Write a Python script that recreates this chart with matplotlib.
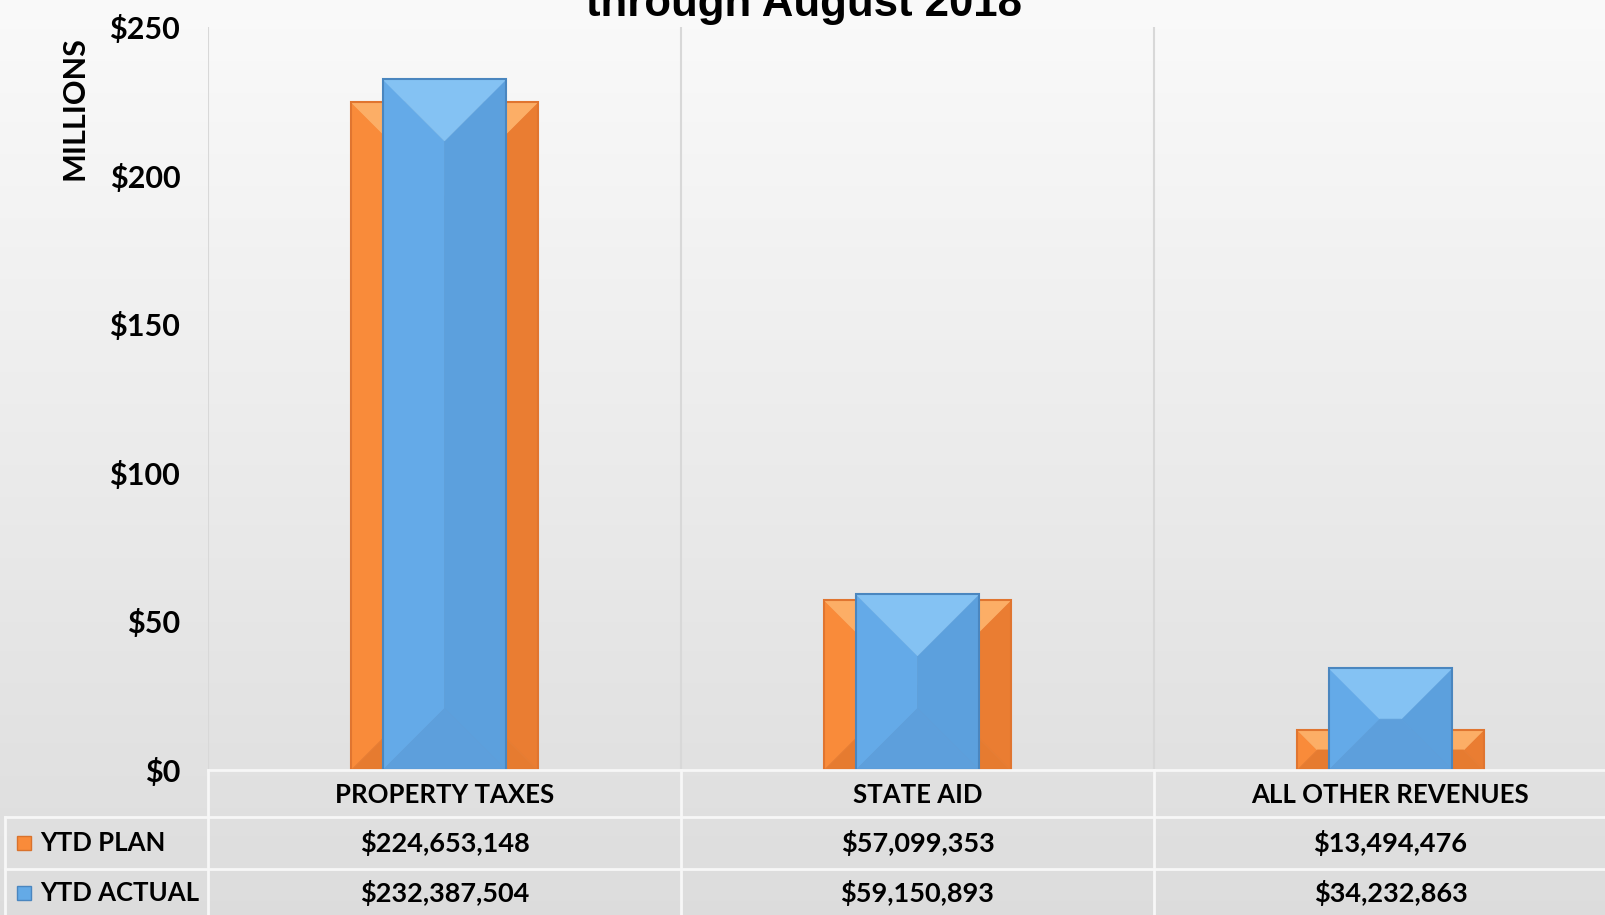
import matplotlib
matplotlib.use('Agg')
import matplotlib.pyplot as plt
import matplotlib.transforms as mtransforms
from matplotlib.patches import Polygon, Rectangle
import numpy as np

# data
categories = ['PROPERTY TAXES', 'STATE AID', 'ALL OTHER REVENUES']
plan = [224653148, 57099353, 13494476]
actual = [232387504, 59150893, 34232863]
series_names = ['YTD PLAN', 'YTD ACTUAL']
yticks = [0, 50, 100, 150, 200, 250]
title = 'through August 2018'

W, H = 1606, 915
fig = plt.figure(figsize=(W / 100, H / 100), dpi=100)

# background gradient
bg = fig.add_axes([0, 0, 1, 1], zorder=-10)
grad = np.linspace(0.98, 0.865, 256).reshape(-1, 1)
bg.imshow(np.dstack([grad, grad, grad]), aspect='auto', extent=[0, 1, 0, 1])
bg.axis('off')

ax_l, ax_b = 208 / W, (H - 770) / H
ax_w, ax_h = (1627 - 208) / W, (770 - 27) / H
ax = fig.add_axes([ax_l, ax_b, ax_w, ax_h])
ax.set_facecolor('none')
ax.set_xlim(-0.5, len(categories) - 0.5)
ax.set_ylim(0, 250)
for s in ax.spines.values():
    s.set_visible(False)
ax.set_xticks([])
ax.set_yticks(yticks)
ax.set_yticklabels(['$%d' % v for v in yticks], fontfamily='Lato',
                   fontweight='bold', fontsize=22)
ax.tick_params(axis='y', length=0, pad=20)

# px per data unit
px_x = ax_w * W / (len(categories))
px_y = ax_h * H / 250.0


def bevel_bar(xc, width, val, cols, edge, z):
    left, top, right, bottom = cols
    x0, x1 = xc - width / 2, xc + width / 2
    y0, y1 = 0, val
    wpx, hpx = width * px_x, val * px_y
    b = min(wpx, hpx) / 2
    bx, by = b / px_x, b / px_y
    faces = [
        ([(x0, y0), (x0, y1), (x0 + bx, y1 - by), (x0 + bx, y0 + by)], left),
        ([(x1, y1), (x1, y0), (x1 - bx, y0 + by), (x1 - bx, y1 - by)], right),
        ([(x0, y1), (x1, y1), (x1 - bx, y1 - by), (x0 + bx, y1 - by)], top),
        ([(x0, y0), (x1, y0), (x1 - bx, y0 + by), (x0 + bx, y0 + by)], bottom),
    ]
    for pts, c in faces:
        ax.add_patch(Polygon(pts, closed=True, facecolor=c, edgecolor=c,
                             lw=0.5, zorder=z))
    ax.add_patch(Rectangle((x0, y0), width, val, facecolor='none',
                           edgecolor=edge, lw=1.5, zorder=z + 0.2))


x = np.arange(len(categories))
orange = ('#f98b3a', '#fcae66', '#ea7d32', '#e67b30')
blue = ('#64aae8', '#84c2f3', '#5ca0dd', '#5d9fdc')
for i in range(len(categories)):
    bevel_bar(x[i], 0.394, plan[i] / 1e6, orange, '#e07530', 2)
    bevel_bar(x[i], 0.26, actual[i] / 1e6, blue, '#4a86bf', 3)

# category separators (plot area)
for xb in np.arange(-0.5, len(categories), 1.0):
    ax.axvline(xb, color='#d8d8d8', lw=1.5, zorder=1)

# table below the axes
tr = mtransforms.blended_transform_factory(ax.transData, fig.transFigure)
rows_y = [(H - 795) / H, (H - 843) / H, (H - 893) / H]
lines_y = [(H - 770) / H, (H - 817) / H, (H - 869) / H]
tfont = dict(fontfamily='Lato', fontweight='bold', ha='center', va='center')
for i, c in enumerate(categories):
    fig.text(x[i], rows_y[0], c, transform=tr, fontsize=18.5, **tfont)
    fig.text(x[i], rows_y[1], '${:,}'.format(plan[i]), transform=tr,
             fontsize=19.5, **tfont)
    fig.text(x[i], rows_y[2], '${:,}'.format(actual[i]), transform=tr,
             fontsize=19.5, **tfont)

line_c = '#f7f7f7'
fig.add_artist(plt.Line2D([-0.5, 2.6], [lines_y[0]] * 2, transform=tr,
                          color=line_c, lw=2))
for ly in lines_y[1:]:
    fig.add_artist(plt.Line2D([5 / W, 1], [ly] * 2,
                              transform=fig.transFigure, color=line_c, lw=2))
for xb in np.arange(-0.5, len(categories), 1.0):
    fig.add_artist(plt.Line2D([xb, xb], [0, lines_y[0]], transform=tr,
                              color=line_c, lw=2))
fig.add_artist(plt.Line2D([5 / W, 5 / W], [0, lines_y[1]],
                          transform=fig.transFigure, color=line_c, lw=2))

# legend keys in the table
keys = [('#f98b3a', '#d9722c'), ('#64aae6', '#4a86bf')]
for (fc, ec), name, ry in zip(keys, series_names, rows_y[1:]):
    fig.add_artist(Rectangle((17 / W, ry - 7 / H), 14 / W, 14 / H,
                             transform=fig.transFigure, facecolor=fc,
                             edgecolor=ec, lw=1))
    fig.text(40 / W, ry, name, fontfamily='Lato', fontweight='bold',
             fontsize=18.5, ha='left', va='center')

fig.text(75 / W, 1 - 108 / H, 'MILLIONS', rotation=90, fontfamily='Lato',
         fontweight='bold', fontsize=22, ha='center', va='center')
fig.text(804 / W, 1 - 16 / H, title, fontfamily='Liberation Sans',
         fontweight='bold', fontsize=31.5, ha='center', va='baseline')

fig.savefig('out.png', dpi=100)
